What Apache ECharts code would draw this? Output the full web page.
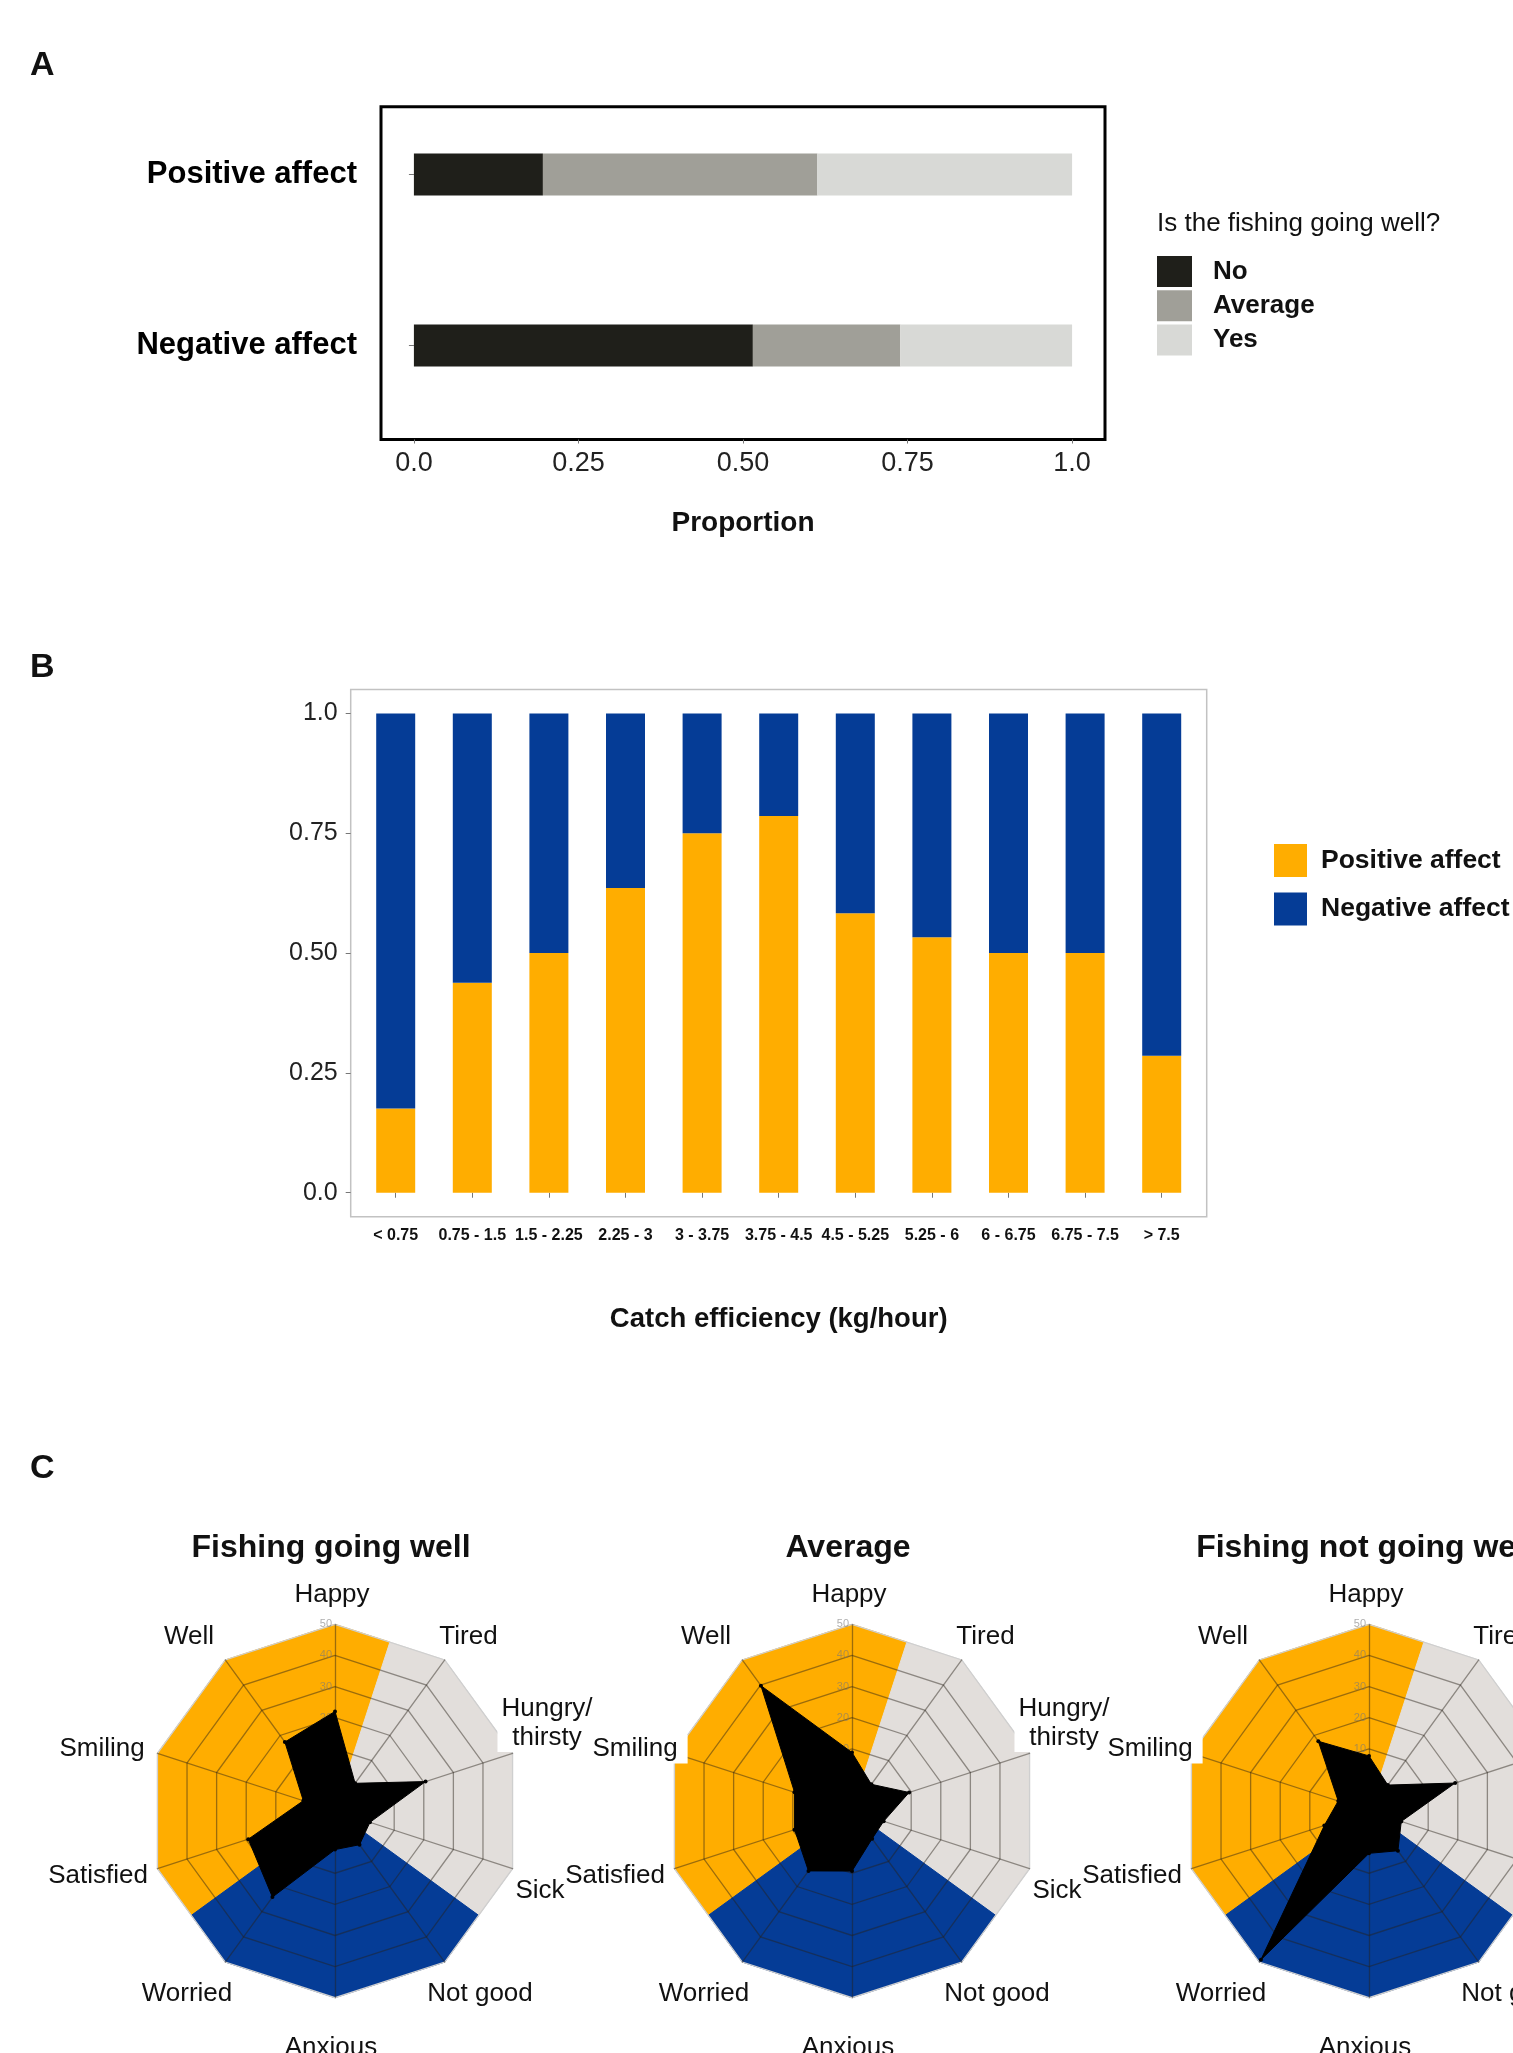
<!DOCTYPE html>
<html>
<head>
<meta charset="utf-8">
<title>Fishing affect</title>
<script src="https://cdn.jsdelivr.net/npm/echarts@6/dist/echarts.min.js"></script>
<style>
  html, body { margin: 0; padding: 0; background: #fff; }
  #main { width: 1513px; height: 2053px; }
</style>
</head>
<body>
<div id="main"></div>
<script>
var FONT = '"Liberation Sans", Arial, Helvetica, sans-serif';

// ---- panel A : affect vs "is the fishing going well?"
var affectCats = ['Positive affect', 'Negative affect'];
var fishingNo = [0.196, 0.515];
var fishingAvg = [0.417, 0.224];
var fishingYes = [0.387, 0.261];
var propTicks = [0, 0.25, 0.5, 0.75, 1];
var propTickLabels = ['0.0', '0.25', '0.50', '0.75', '1.0'];

// ---- panel B : affect by catch efficiency
var catchCats = ['< 0.75', '0.75 - 1.5', '1.5 - 2.25', '2.25 - 3', '3 - 3.75', '3.75 - 4.5',
  '4.5 - 5.25', '5.25 - 6', '6 - 6.75', '6.75 - 7.5', '> 7.5'];
var positiveShare = [0.176, 0.438, 0.5, 0.636, 0.75, 0.786, 0.583, 0.533, 0.5, 0.5, 0.286];
var negativeShare = [0.824, 0.562, 0.5, 0.364, 0.25, 0.214, 0.417, 0.467, 0.5, 0.5, 0.714];

// ---- panel C : radar of feelings (counter-clockwise from the top)
var feelings = ['Happy', 'Well', 'Smiling', 'Satisfied', 'Worried', 'Anxious', 'Not good', 'Sick', 'Hungry/\nthirsty', 'Tired'];
var radarTitles = ['Fishing going well', 'Average', 'Fishing not going well'];
var feelWell = [22, 17.4, 0.7, 19.3, 24.2, 2.4, 3.4, 1.8, 20.6, 1];
var feelAverage = [8.8, 39.8, 9.4, 9.4, 13.8, 9.3, 1, 0.7, 9.3, 0.6];
var feelNotWell = [7.7, 17.7, 0.4, 5.1, 49.1, 3.6, 5.8, 0.9, 19.1, 0.3];
var radarValues = [feelWell, feelAverage, feelNotWell];

// background wedges on a 20-spoke radar (spokes + edge midpoints), -10 = centre
var wedgeOrange = [50, 47.06, 50, 47.06, 50, 47.06, 50, 47.06, -10, -10, -10, -10, -10, -10, -10, -10, -10, -10, -10, 47.06];
var wedgeBlue = [-10, -10, -10, -10, -10, -10, -10, 47.06, 50, 47.06, 50, 47.06, 50, 47.06, -10, -10, -10, -10, -10, -10];
var wedgeGrey = [-10, -10, -10, -10, -10, -10, -10, -10, -10, -10, -10, -10, -10, 47.06, 50, 47.06, 50, 47.06, 50, 47.06];

// layout of radars and their labels
var radarCx = [335, 852, 1369];
var radarCy = 1811;
var radarR = 186.7;
var nameDx = [-3, -146, -233, -237, -148, -4, 145, 205, 212, 133.5];
var nameDy = [-216, -174, -62, 65, 182.5, 237, 182.5, 79.5, -88, -174];
var smilingDx = [-233, -217, -219];

var ORANGE = '#FFAD00', BLUE = '#053C96', GREY_BG = '#E2DEDB';
var GRID = 'rgba(40,32,24,0.46)';

var myChart = echarts.init(document.getElementById('main'));

function tickText(v) {
  for (var i = 0; i < propTicks.length; i++) {
    if (Math.abs(propTicks[i] - v) < 1e-9) return propTickLabels[i];
  }
  return '';
}

function txt(x, y, s, size, weight, align, extra) {
  var st = { text: s, fill: '#111', fontSize: size, fontFamily: FONT, fontWeight: weight || 'normal',
    align: align || 'center', verticalAlign: 'middle' };
  if (extra) { for (var k in extra) st[k] = extra[k]; }
  return { type: 'text', x: x, y: y, z: 10, silent: true, style: st };
}

var graphics = [];
graphics.push(txt(30, 66, 'A', 34, 'bold', 'left'));
graphics.push(txt(30, 668, 'B', 34, 'bold', 'left'));
graphics.push(txt(30, 1469, 'C', 34, 'bold', 'left'));
graphics.push(txt(1157, 224, 'Is the fishing going well?', 26, 'normal', 'left'));

var radars = [], series = [];
for (var k = 0; k < 3; k++) {
  graphics.push(txt(radarCx[k] - 4, 1548, radarTitles[k], 32, 'bold', 'center'));
  for (var i = 0; i < feelings.length; i++) {
    var dx = i === 2 ? smilingDx[k] : nameDx[i];
    var extra = { lineHeight: 29 };
    if (i === 2) { extra.backgroundColor = '#fff'; extra.padding = [0, 10]; }
    if (i === 8) { extra.backgroundColor = '#fff'; extra.padding = [0, 4]; }
    graphics.push(txt(radarCx[k] + dx, radarCy + nameDy[i], feelings[i], 26, 'normal', 'center', extra));
  }

  radars.push({
    center: [radarCx[k], radarCy],
    radius: radarR,
    startAngle: 90,
    splitNumber: 6,
    shape: 'polygon',
    z: 2,
    indicator: feelings.map(function (f, idx) {
      var ind = { name: f, min: -10, max: 50 };
      if (idx === 0) {
        ind.axisLabel = {
          show: true, margin: 3, fontSize: 11, fontFamily: FONT, color: 'rgba(120,120,120,0.6)',
          formatter: function (v) { return v > 0 ? String(v) : ''; }
        };
      }
      return ind;
    }),
    axisName: { show: false },
    axisLine: { lineStyle: { color: GRID, width: 1.3 } },
    axisTick: { show: false },
    axisLabel: { show: false },
    splitArea: { show: false },
    splitLine: { lineStyle: { color: [GRID, GRID, GRID, GRID, GRID, GRID, '#cfcfcf'], width: 1.3 } }
  });
}
// hidden 20-spoke radars for the coloured wedges
for (var k2 = 0; k2 < 3; k2++) {
  var ind20 = [];
  for (var j = 0; j < 20; j++) ind20.push({ name: '', min: -10, max: 50 });
  radars.push({
    center: [radarCx[k2], radarCy],
    radius: radarR,
    startAngle: 90,
    splitNumber: 6,
    shape: 'polygon',
    z: 0,
    indicator: ind20,
    axisName: { show: false },
    axisLine: { show: false },
    axisTick: { show: false },
    axisLabel: { show: false },
    splitArea: { show: false },
    splitLine: { show: false }
  });
}

function wedge(vals, color) {
  return {
    value: vals,
    symbol: 'none',
    areaStyle: { color: color, opacity: 1 },
    lineStyle: { color: color, width: 1 }
  };
}

// panel A bars
series.push({ name: 'No', type: 'bar', stack: 'fishing', xAxisIndex: 1, yAxisIndex: 1, barWidth: 42,
  itemStyle: { color: '#1F1F1A' }, data: fishingNo });
series.push({ name: 'Average', type: 'bar', stack: 'fishing', xAxisIndex: 1, yAxisIndex: 1, barWidth: 42,
  itemStyle: { color: '#A09F98' }, data: fishingAvg });
series.push({ name: 'Yes', type: 'bar', stack: 'fishing', xAxisIndex: 1, yAxisIndex: 1, barWidth: 42,
  itemStyle: { color: '#D8D9D6' }, data: fishingYes });

// panel B bars
series.push({ name: 'Positive affect', type: 'bar', stack: 'affect', xAxisIndex: 3, yAxisIndex: 3, barWidth: 39,
  itemStyle: { color: ORANGE }, data: positiveShare });
series.push({ name: 'Negative affect', type: 'bar', stack: 'affect', xAxisIndex: 3, yAxisIndex: 3, barWidth: 39,
  itemStyle: { color: BLUE }, data: negativeShare });

// panel C radars
for (var m = 0; m < 3; m++) {
  series.push({
    type: 'radar', radarIndex: 3 + m, z: 1, silent: true,
    data: [wedge(wedgeOrange, ORANGE), wedge(wedgeGrey, GREY_BG), wedge(wedgeBlue, BLUE)]
  });
  series.push({
    type: 'radar', radarIndex: m, z: 5, silent: true,
    symbol: 'circle', symbolSize: 4,
    itemStyle: { color: '#000' },
    lineStyle: { color: '#000', width: 1 },
    areaStyle: { color: '#000', opacity: 1 },
    data: [{ value: radarValues[m] }]
  });
}

var option = {
  backgroundColor: '#fff',
  animation: false,
  textStyle: { fontFamily: FONT },
  legend: [{
    data: ['No', 'Average', 'Yes'],
    orient: 'vertical', left: 1157, top: 256, padding: 0,
    itemWidth: 35, itemHeight: 31, itemGap: 3.3, icon: 'rect', selectedMode: false,
    textStyle: { fontFamily: FONT, fontSize: 26, fontWeight: 'bold', color: '#111', padding: [0, 0, 0, 16] }
  }, {
    data: ['Positive affect', 'Negative affect'],
    orient: 'vertical', left: 1274, top: 844, padding: 0,
    itemWidth: 33, itemHeight: 33, itemGap: 15.5, icon: 'rect', selectedMode: false,
    textStyle: { fontFamily: FONT, fontSize: 26.5, fontWeight: 'bold', color: '#111', padding: [0, 0, 0, 9] }
  }],
  grid: [
    { left: 381, top: 106.7, width: 724, height: 332.8, show: true, borderColor: '#000', borderWidth: 3, backgroundColor: 'transparent' },
    { left: 381, top: 89, width: 724, height: 342 },
    { left: 350.7, top: 689.5, width: 856, height: 527.2, show: true, borderColor: '#c2c2c2', borderWidth: 1.5, backgroundColor: 'transparent' },
    { left: 357.4, top: 689.5, width: 842.6, height: 527.2 }
  ],
  xAxis: [
    { gridIndex: 0, type: 'value', min: -0.05, max: 1.05,
      axisLine: { show: false }, splitLine: { show: false },
      axisTick: { show: true, customValues: propTicks, length: 4, lineStyle: { color: '#777' } },
      axisLabel: { customValues: propTicks, formatter: tickText, fontSize: 27, color: '#222', margin: 11, fontFamily: FONT },
      name: 'Proportion', nameLocation: 'middle', nameGap: 70,
      nameTextStyle: { fontSize: 28, fontWeight: 'bold', color: '#111', fontFamily: FONT } },
    { gridIndex: 1, type: 'value', min: -0.05, max: 1.05, show: false },
    { gridIndex: 2, type: 'value', min: 0, max: 1, show: false },
    { gridIndex: 3, type: 'category', data: catchCats,
      axisLine: { show: false },
      axisTick: { show: true, alignWithLabel: true, length: 5, lineStyle: { color: '#777' } },
      axisLabel: { interval: 0, fontSize: 16, fontWeight: 'bold', color: '#111', margin: 11, fontFamily: FONT },
      name: 'Catch efficiency (kg/hour)', nameLocation: 'middle', nameGap: 89,
      nameTextStyle: { fontSize: 27.5, fontWeight: 'bold', color: '#111', fontFamily: FONT } }
  ],
  yAxis: [
    { gridIndex: 0, type: 'value', min: 0, max: 1, show: false },
    { gridIndex: 1, type: 'category', data: affectCats, inverse: true,
      axisLine: { show: false },
      axisTick: { show: true, alignWithLabel: true, length: 5, lineStyle: { color: '#777' } },
      axisLabel: { fontSize: 31, fontWeight: 'bold', color: '#000', margin: 24, fontFamily: FONT } },
    { gridIndex: 2, type: 'value', min: -0.05, max: 1.05,
      axisLine: { show: false }, splitLine: { show: false },
      axisTick: { show: true, customValues: propTicks, length: 5, lineStyle: { color: '#777' } },
      axisLabel: { customValues: propTicks, formatter: tickText, fontSize: 25, color: '#222', margin: 13, fontFamily: FONT } },
    { gridIndex: 3, type: 'value', min: -0.05, max: 1.05, show: false }
  ],
  radar: radars,
  series: series,
  graphic: graphics
};

myChart.setOption(option);
</script>
</body>
</html>
